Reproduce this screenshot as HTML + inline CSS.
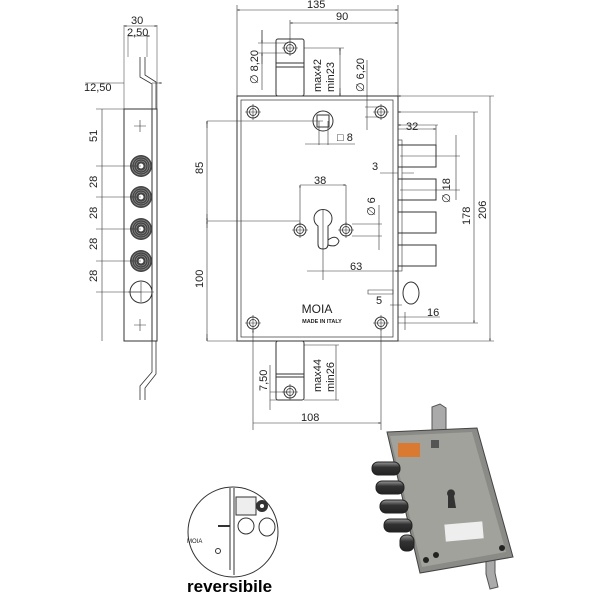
<!DOCTYPE html>
<html><head><meta charset="utf-8"><style>
html,body{margin:0;padding:0;background:#fff;width:600px;height:600px;overflow:hidden}
svg{display:block}
text{font-family:"Liberation Sans",sans-serif;fill:#222}
</style></head><body>
<svg width="600" height="600" viewBox="0 0 600 600" xmlns="http://www.w3.org/2000/svg">
<defs>
<marker id="a" viewBox="0 0 10 10" refX="10" refY="5" markerWidth="6" markerHeight="4" orient="auto-start-reverse"><path d="M0,2 L10,5 L0,8z" fill="#222"/></marker>
<g id="scr"><circle r="6" fill="none" stroke="#333" stroke-width="1"/><circle r="3.5" fill="none" stroke="#333" stroke-width=".8"/><path d="M-8,0H8M0,-8V8" stroke="#333" stroke-width=".6"/></g>
<g id="rol"><circle r="11" fill="#444"/><circle r="9" fill="none" stroke="#999" stroke-width=".6"/><circle r="7" fill="none" stroke="#999" stroke-width=".6"/><circle r="5" fill="none" stroke="#999" stroke-width=".6"/><circle r="2.5" fill="#fff"/></g>
<linearGradient id="bolt" x1="0" y1="0" x2="0" y2="1"><stop offset="0" stop-color="#999"/><stop offset=".4" stop-color="#333"/><stop offset="1" stop-color="#222"/></linearGradient>
</defs>
<g fill="none" stroke="#333" stroke-width="1">
<rect x="124" y="109" width="33" height="232"/>
<path d="M152,109V341"/>
<path d="M140,57V77L152,84V109M152,341V372L140,386V400M145,57V75L156,82V109M156,341V374L145,388V400" stroke-width=".8"/>
<path d="M124,25V109M157,25V109M128,35V57M147,35V57" stroke-width=".5"/>
</g>
<use href="#rol" x="141" y="166"/><use href="#rol" x="141" y="197"/><use href="#rol" x="141" y="229"/><use href="#rol" x="141" y="261"/>
<circle cx="141" cy="292" r="11" fill="none" stroke="#333"/>
<path d="M134,126h12M140,120v12M134,325h12M140,319v12M128,292h26M141,282v20" stroke="#333" stroke-width=".6"/>
<g stroke="#333" stroke-width=".6" fill="none">
<path d="M124,26H157" marker-start="url(#a)" marker-end="url(#a)"/>
<path d="M128,36H150" marker-end="url(#a)"/>
<path d="M85,83H124M152,83H162" marker-end="url(#a)"/>
<path d="M102,109V341" />
<path d="M96,109h28M96,166h45M96,197h45M96,229h45M96,261h45M96,292h45"/>
</g>
<g font-size="11">
<text x="131" y="24">30</text><text x="127" y="36">2,50</text><text x="84" y="91">12,50</text>
<text transform="translate(97,142) rotate(-90)">51</text>
<text transform="translate(97,188) rotate(-90)">28</text>
<text transform="translate(97,219) rotate(-90)">28</text>
<text transform="translate(97,250) rotate(-90)">28</text>
<text transform="translate(97,282) rotate(-90)">28</text>
</g>
<g fill="none" stroke="#333" stroke-width="1">
<rect x="276" y="39" width="28" height="57" rx="2"/>
<path d="M276,63h28M276,67h28" />
<rect x="276" y="341" width="28" height="59" rx="2"/>
<path d="M276,374h28M276,377h28"/>
<rect x="237" y="96" width="161" height="245"/>
<rect x="241" y="100" width="152" height="237" stroke-width=".7"/>
<circle cx="323" cy="121" r="10"/><rect x="317" y="115" width="12" height="12"/>
<path d="M318,226 a9,9 0 1 1 10,0 v18 q0,5 -5,5 q-5,0 -5,-5z"/>
<path d="M328,240 q8,-6 11,1 q-2,7 -11,4"/>
<rect x="398" y="145" width="38" height="22"/><rect x="398" y="179" width="38" height="21"/>
<rect x="398" y="212" width="38" height="21"/><rect x="398" y="245" width="38" height="21"/>
<rect x="398" y="140" width="4" height="131" stroke-width=".6"/>
<ellipse cx="411" cy="293" rx="8" ry="11"/>
<path d="M368,290h25v4h-25z" stroke-width=".6"/>
</g>
<use href="#scr" x="290" y="48"/><use href="#scr" x="290" y="392"/>
<use href="#scr" x="253" y="112"/><use href="#scr" x="381" y="112"/><use href="#scr" x="253" y="323"/><use href="#scr" x="381" y="323"/>
<use href="#scr" x="300" y="230"/><use href="#scr" x="346" y="230"/>
<text x="317" y="313" font-size="12" text-anchor="middle">MOIA</text><text x="322" y="323" font-size="5.5" font-weight="bold" text-anchor="middle">MADE IN ITALY</text>
<g stroke="#333" stroke-width=".6" fill="none">
<path d="M237,5V96M398,5V96M290,20V40"/>
<path d="M237,10H398" marker-start="url(#a)" marker-end="url(#a)"/>
<path d="M290,23H398" marker-start="url(#a)" marker-end="url(#a)"/>
<path d="M262,30V90M258,43h30M258,53h30" /><path d="M262,30V43" marker-end="url(#a)"/><path d="M262,64V53" marker-end="url(#a)"/>
<path d="M304,48h40M304,96h40M340,48V96" /><path d="M340,55V48" marker-end="url(#a)"/><path d="M340,88V96" marker-end="url(#a)"/>
<path d="M367,60V130M365,107h14M365,117h14"/>
<path d="M207,121H323M207,221H300M207,341H237"/>
<path d="M207,121V341" /><path d="M207,128V121" marker-end="url(#a)"/><path d="M207,214V221" marker-end="url(#a)"/><path d="M207,228V221" marker-end="url(#a)"/><path d="M207,334V341" marker-end="url(#a)"/>
<path d="M319,121V145M328,121V145M305,144h50" />
<path d="M300,185V225M346,185V225M300,185H346" marker-start="url(#a)" marker-end="url(#a)"/>
<path d="M352,224h30M352,236h30M379,205V250"/>
<path d="M323,210V280M307,271H398" marker-end="url(#a)"/>
<path d="M398,125h40M436,125v20M398,129H436" marker-start="url(#a)" marker-end="url(#a)"/>
<path d="M380,173h18M402,173h12"/>
<path d="M400,156h60M400,190h60M456,135V200"/>
<path d="M398,112H478M398,323H478M474,112V323" marker-start="url(#a)" marker-end="url(#a)"/>
<path d="M398,96H494M398,341H494M490,96V341" marker-start="url(#a)" marker-end="url(#a)"/>
<path d="M390,305h12M398,310v-8M398,317H440M402,317H398M405,312V330"/>
<path d="M253,330V430M381,330V430M253,423H381" marker-start="url(#a)" marker-end="url(#a)"/>
<path d="M270,392h20M270,400h20M270,365V410"/>
<path d="M304,345h35M304,400h35M336,345V400"/>
</g>
<g font-size="11">
<text x="307" y="8">135</text><text x="336" y="20">90</text>
<text transform="translate(258,84) rotate(-90)">∅ 8,20</text>
<text transform="translate(321,92) rotate(-90)">max42</text><text transform="translate(334,92) rotate(-90)">min23</text>
<text transform="translate(364,92) rotate(-90)">∅ 6,20</text>
<text x="337" y="141">□ 8</text><text x="406" y="130">32</text><text x="372" y="170">3</text>
<text transform="translate(450,203) rotate(-90)">∅ 18</text>
<text transform="translate(470,225) rotate(-90)">178</text><text transform="translate(486,219) rotate(-90)">206</text>
<text transform="translate(203,174) rotate(-90)">85</text><text transform="translate(203,288) rotate(-90)">100</text>
<text x="314" y="184">38</text><text transform="translate(375,216) rotate(-90)">∅ 6</text>
<text x="350" y="270">63</text><text x="376" y="304">5</text><text x="427" y="316">16</text>
<text transform="translate(267,391) rotate(-90)">7,50</text>
<text transform="translate(321,392) rotate(-90)">max44</text><text transform="translate(334,392) rotate(-90)">min26</text>
<text x="301" y="421">108</text>
</g>
<circle cx="233" cy="532" r="45" fill="none" stroke="#333"/>
<path d="M230,488V570M234,488V575" stroke="#333" fill="none"/>
<rect x="236" y="497" width="20" height="18" fill="#eee" stroke="#333"/><circle cx="262" cy="506" r="6" fill="#333"/><circle cx="262" cy="506" r="2" fill="#fff"/>
<circle cx="246" cy="526" r="8" fill="#fff" stroke="#333"/><ellipse cx="267" cy="527" rx="8" ry="9" fill="none" stroke="#333"/>
<path d="M218,526h12" stroke="#333" stroke-width="2"/>
<text x="187" y="543" font-size="6">MOIA</text><circle cx="218" cy="551" r="2.5" fill="none" stroke="#333"/>
<text x="187" y="592" font-size="17" font-weight="bold" style="fill:#000">reversibile</text>
<path d="M432,430V407l8,-3 6,4v22z" fill="#aaa" stroke="#555"/>
<path d="M486,556v18l4,15 8,-2 -3,-14v-17z" fill="#aaa" stroke="#555"/>
<polygon points="387,432 477,428 513,557 420,573" fill="#8a8a86" stroke="#444"/>
<polygon points="390,436 472,432 506,552 422,567" fill="#a2a29c"/>
<rect x="398" y="443" width="22" height="14" fill="#d97a30"/>
<rect x="445" y="523" width="38" height="17" fill="#eee" transform="rotate(-5 464 531)"/>
<rect x="431" y="440" width="8" height="8" fill="#555"/>
<path d="M448,496a4,4 0 1 1 6,0l2,12h-8z" fill="#333"/>
<g fill="url(#bolt)" stroke="#222"><rect x="372" y="462" width="28" height="13" rx="6"/><rect x="376" y="481" width="28" height="13" rx="6"/><rect x="380" y="500" width="28" height="13" rx="6"/><rect x="384" y="519" width="28" height="13" rx="6"/><rect x="400" y="535" width="14" height="16" rx="6"/></g>
<circle cx="436" cy="555" r="3" fill="#222"/><circle cx="426" cy="560" r="3" fill="#222"/><circle cx="502" cy="548" r="3" fill="#222"/>
</svg>
</body></html>
